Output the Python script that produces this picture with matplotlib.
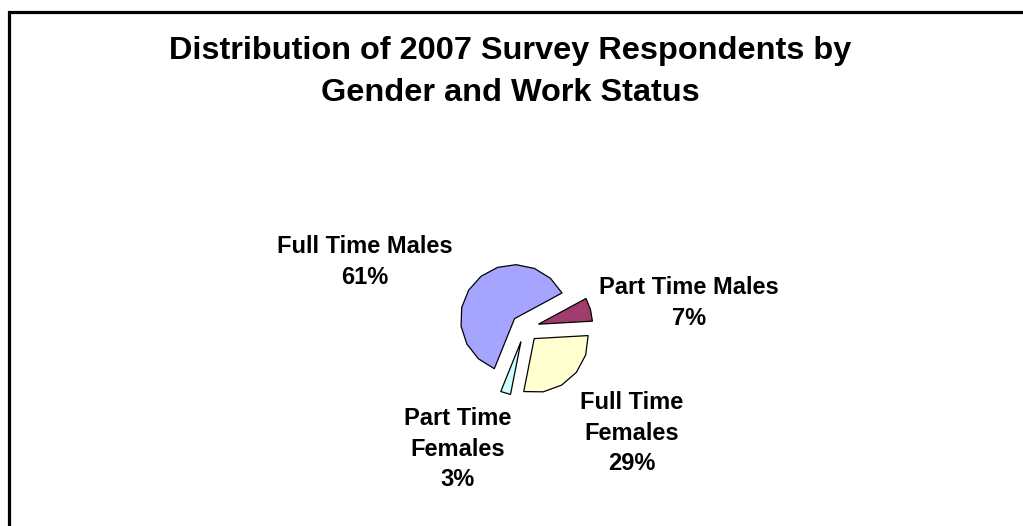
import numpy as np
import matplotlib
matplotlib.use("Agg")
import matplotlib.pyplot as plt
from matplotlib.patches import Polygon, Rectangle

plt.rcParams['font.family'] = ['Liberation Sans', 'DejaVu Sans']

# survey shares (percent)
groups = ["Full Time Males", "Part Time Males", "Full Time Females", "Part Time Females"]
shares = [61, 7, 29, 3]
label_text = ["Full Time Males\n61%", "Part Time Males\n7%",
              "Full Time\nFemales\n29%", "Part Time\nFemales\n3%"]
colors = ["#A5A5FF", "#9E3D6E", "#FFFFD0", "#CCFFFF"]

W, H = 1023, 526
fig = plt.figure(figsize=(W / 100, H / 100), dpi=100)
fig.patch.set_facecolor("white")

# axes spans the whole figure; one data unit = pie radius (54 px)
r_px = 54.0
cx, cy = 525.0, 328.0
ax = fig.add_axes([0, 0, 1, 1])

wedges, _ = ax.pie(shares, colors=colors, startangle=248, counterclock=False,
                   explode=[0.26] * 4, radius=1.0,
                   wedgeprops=dict(edgecolor="black", linewidth=0.9))

# pie() resets the limits, so set them afterwards
ax.set_xlim(-cx / r_px, (W - cx) / r_px)
ax.set_ylim(-(H - cy) / r_px, cy / r_px)
ax.axis("off")

# redraw each wedge as a coarse polygon, like the old office renderer
for w in wedges:
    t1, t2 = w.theta1, w.theta2
    n = max(2, int(np.ceil((t2 - t1) / 21.0)) + 1)
    ang = np.radians(np.linspace(t1, t2, n))
    x0, y0 = w.center
    pts = [(x0, y0)] + [(x0 + w.r * np.cos(a), y0 + w.r * np.sin(a)) for a in ang]
    ax.add_patch(Polygon(pts, closed=True, facecolor=w.get_facecolor(),
                         edgecolor="black", linewidth=0.9, joinstyle="miter"))
    w.set_visible(False)

# data labels: (center x, cap top y) in pixels from top-left
label_pos = [(365, 235), (689, 276), (632, 391), (458, 407)]
for txt, (px, py) in zip(label_text, label_pos):
    fig.text(px / W, 1 - py / H, txt, ha="center", va="top", fontsize=17,
             fontweight="bold", linespacing=1.42, multialignment="center")

fig.text(510 / W, 1 - 36 / H,
         "Distribution of 2007 Survey Respondents by\nGender and Work Status",
         ha="center", va="top", fontsize=23.4, fontweight="bold",
         linespacing=1.51, multialignment="center")

# chart area frame (right and bottom edges fall outside the image)
fig.patches.append(Rectangle((9 / W, -0.1), 1.2, 1.1 - 12 / H,
                             transform=fig.transFigure, fill=False,
                             edgecolor="black", linewidth=2.3))

fig.savefig("out.png", dpi=100)
